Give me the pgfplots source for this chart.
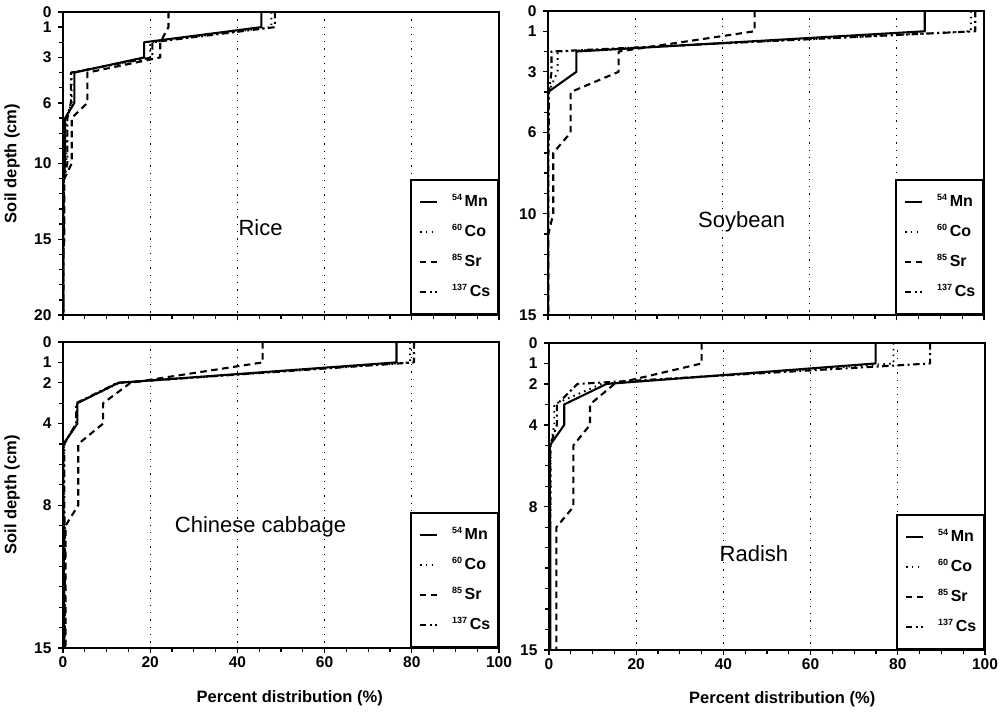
\documentclass[border=0pt]{standalone}
\usepackage{pgfplots}
\pgfplotsset{compat=1.18}
\usepackage{pgfplotstable}
\usepackage{fontspec}
\setmainfont{Liberation Sans}

\pgfplotstableread{
d   Mn    Co    Sr    Cs
0   45.5  47.8  24.2  48.6
1   45.5  47.8  24.2  48.6
2   18.6  20.0  22.3  20.5
3   18.6  20.0  22.3  20.5
4   2.6   2.0   5.6   1.8
6   2.6   2.0   5.6   1.8
7   0.5   0.8   2.0   1.0
10  0.5   0.8   2.0   1.0
11  0.1   0.2   0.3   0.2
15  0.1   0.2   0.3   0.2
16  0.05  0.1   0.1   0.1
20  0.05  0.1   0.1   0.1
}\rice

\pgfplotstableread{
d   Mn    Co    Sr    Cs
0   86.4  97.0  47.4  98.0
1   86.4  97.0  47.4  98.0
2   6.5   2.2   16.2  0.8
3   6.5   2.2   16.2  0.8
4   0.0   0.1   5.2   0.2
6   0.0   0.1   5.2   0.2
7   0.0   0.0   1.2   0.1
10  0.0   0.0   1.2   0.1
11  0.0   0.0   0.1   0.0
15  0.0   0.0   0.1   0.0
}\soybean

\pgfplotstableread{
d   Mn    Co    Sr    Cs
0   76.5  79.6  45.8  80.5
1   76.5  79.6  45.8  80.5
2   12.7  13.0  15.5  12.5
3   3.3   3.2   9.2   3.0
4   3.3   3.2   9.2   3.0
5   0.1   0.2   3.5   0.3
8   0.1   0.2   3.5   0.3
9   0.2   0.3   0.6   0.4
15  0.2   0.3   0.6   0.4
}\cabbage

\pgfplotstableread{
d   Mn    Co    Sr    Cs
0   74.9  79.0  35.0  87.4
1   74.9  79.0  35.0  87.4
2   13.2  12.0  15.0  6.5
3   3.5   1.2   9.4   1.8
4   3.5   1.2   9.4   1.8
5   0.2   0.4   5.6   0.3
8   0.2   0.4   5.6   0.3
9   0.3   0.2   1.7   0.2
15  0.3   0.2   1.7   0.2
}\radish

\tikzset{lab/.style={font=\bfseries\fontsize{16.5}{16.5}\selectfont}}
\newcommand{\iso}[2]{\raisebox{5.5pt}{\fontsize{9}{9}\selectfont #1}\,#2}

\pgfplotsset{
  panel/.style={
    scale only axis, anchor=south west,
    width=436pt,
    xmin=0, xmax=100, ymin=0, y dir=reverse,
    xtick={0,20,40,60,80,100}, minor x tick num=3,
    tick align=outside, xtick pos=bottom, ytick pos=left,
    major tick length=5pt, minor tick length=4pt,
    xmajorgrids,
    major grid style={black, line width=1pt, dash pattern=on 1.3pt off 6pt},
    axis line style={line width=1.8pt},
    every tick/.style={black, line width=1.3pt},
    tick label style={font=\bfseries\fontsize{15.5}{15.5}\selectfont},
    yticklabel style={xshift=-3pt},
    /pgf/number format/assume math mode=true,
    legend cell align=left,
    legend style={
      at={(1,0)}, anchor=south east, draw=black, line width=1.6pt, fill=white,
      inner xsep=8pt, inner ysep=14pt, row sep=14pt,
      nodes={inner sep=0pt, text height=12pt, text depth=4pt,
             font=\bfseries\fontsize{16}{16}\selectfont},
      /tikz/every odd column/.append style={column sep=14pt},
      /tikz/every even column/.append style={column sep=6pt},
    },
  },
  mn/.style={black, line width=2.1pt, solid, line join=round},
  co/.style={black, line width=1.9pt, dash pattern=on 1.6pt off 4.2pt, line join=round},
  sr/.style={black, line width=2.1pt, dash pattern=on 6.5pt off 4.5pt, line join=round},
  cs/.style={black, line width=2.1pt, dash pattern=on 6.5pt off 3.5pt on 2pt off 3.5pt, line join=round},
}

\newcommand{\series}[1]{%
  \addplot[mn] table[x=Mn,y=d]{#1};
  \addlegendentry{\iso{54}{Mn}}
  \addplot[co] table[x=Co,y=d]{#1};
  \addlegendentry{\iso{60}{Co}}
  \addplot[sr] table[x=Sr,y=d]{#1};
  \addlegendentry{\iso{85}{Sr}}
  \addplot[cs] table[x=Cs,y=d]{#1};
  \addlegendentry{\iso{137}{Cs}}
}

\begin{document}
\begin{tikzpicture}[x=1pt,y=1pt]
\useasboundingbox (0,0) rectangle (1003,712);

% Rice
\begin{axis}[panel, at={(63pt,397pt)}, height=303pt,
  ymax=20, ytick={0,1,3,6,10,15,20}, minor ytick={0,...,20},
  xticklabels={},
  ylabel={Soil depth (cm)},
  ylabel style={lab, at={(axis description cs:-0.117,0.5)}, anchor=center}]
\series{\rice}
\node[font=\fontsize{22}{22}\selectfont] at (axis description cs:0.453,0.287) {Rice};
\end{axis}

% Soybean
\begin{axis}[panel, at={(548pt,397pt)}, height=304pt,
  ymax=15, ytick={0,1,3,6,10,15}, minor ytick={0,...,15},
  xticklabels={}]
\series{\soybean}
\node[font=\fontsize{22}{22}\selectfont] at (axis description cs:0.444,0.305) {Soybean};
\end{axis}

% Chinese cabbage
\begin{axis}[panel, at={(63pt,64pt)}, height=306pt,
  ymax=15, ytick={0,1,2,4,8,15}, minor ytick={0,...,15},
  ylabel={Soil depth (cm)},
  ylabel style={lab, at={(axis description cs:-0.117,0.5)}, anchor=center},
  xlabel={Percent distribution (\%)},
  xlabel style={lab, at={(axis description cs:0.52,-0.165)}, anchor=center}]
\series{\cabbage}
\node[font=\fontsize{22}{22}\selectfont] at (axis description cs:0.453,0.395) {Chinese cabbage};
\end{axis}

% Radish
\begin{axis}[panel, at={(549pt,62pt)}, height=307pt,
  ymax=15, ytick={0,1,2,4,8,15}, minor ytick={0,...,15},
  xlabel={Percent distribution (\%)},
  xlabel style={lab, at={(axis description cs:0.535,-0.16)}, anchor=center}]
\series{\radish}
\node[font=\fontsize{22}{22}\selectfont] at (axis description cs:0.47,0.314) {Radish};
\end{axis}
\end{tikzpicture}
\end{document}
